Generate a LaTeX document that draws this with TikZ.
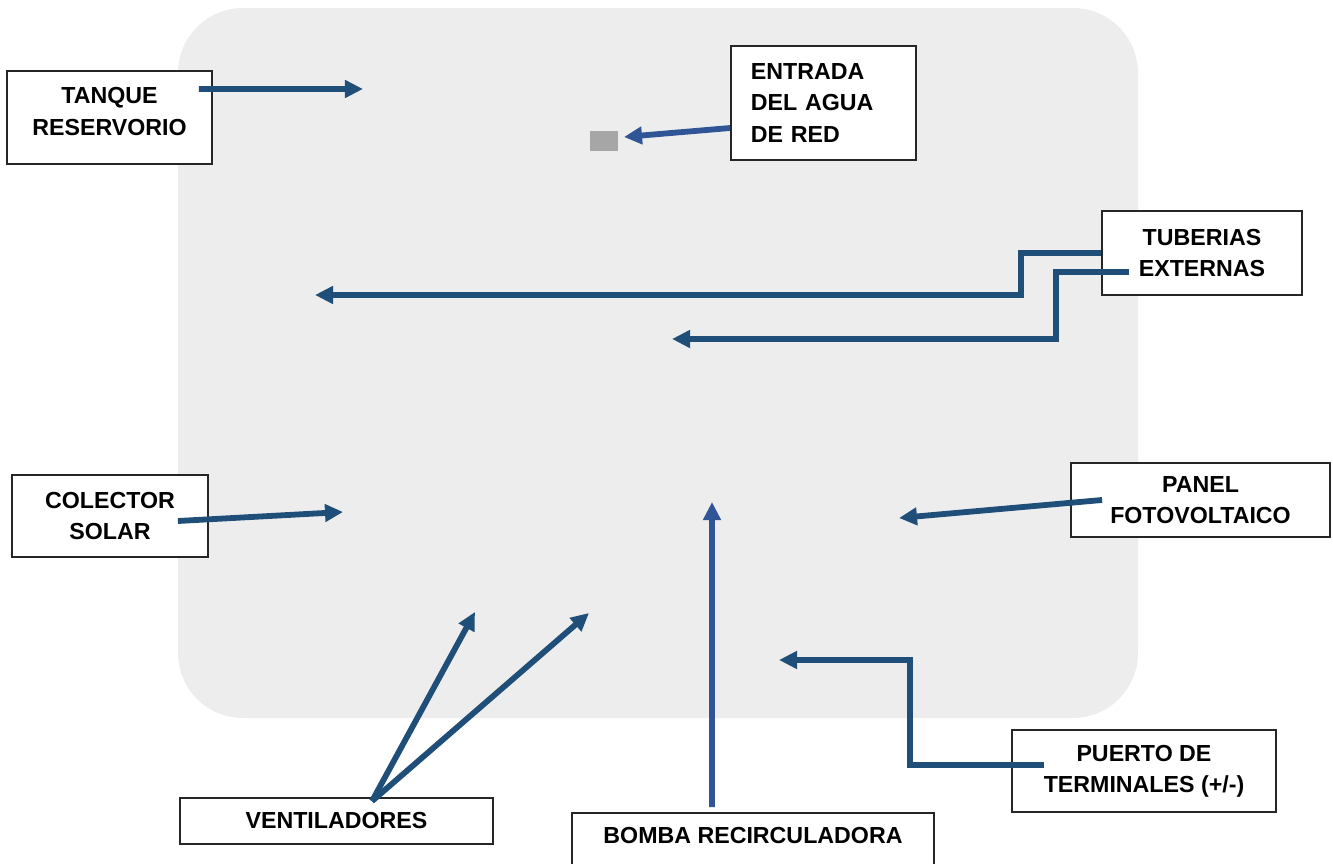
\documentclass[tikz,border=0pt]{standalone}
\usepackage{fontspec}
\setmainfont{Liberation Sans}
\usepackage{tikz}
\usetikzlibrary{positioning}
\usetikzlibrary{arrows.meta}
\definecolor{flecha}{HTML}{1F4E79}
\definecolor{flechaclara}{HTML}{2F5597}
\definecolor{fondo}{HTML}{EDEDED}
\definecolor{bloque}{HTML}{A6A6A6}
\tikzstyle{etiqueta} = [draw=black!85, fill=white, line width=0.5pt, inner sep=0pt, align=center, font=\fontsize{6.6}{8.9}\selectfont\bfseries]
\tikzstyle{line} = [draw=flecha, line width=0.058cm, -{Triangle[length=0.18cm,width=0.17cm]}]

\begin{document}
\begin{tikzpicture}[x=0.01cm, y=-0.01cm]

	\useasboundingbox (0,0) rectangle (1333,864);

	% equipo
	\fill[fondo, rounded corners=0.65cm] (178,8) rectangle (1138,718);
	\fill[bloque] (590,131) rectangle (618,151);

	\node[etiqueta, minimum width=2.05cm, minimum height=0.93cm, text depth=0.12cm] (tanque) at (109.5,117.5) {TANQUE\\RESERVORIO};
	\node[etiqueta, minimum width=1.85cm, minimum height=1.14cm, text width=1.45cm, align=left] (entrada) at (823.5,103) {ENTRADA\\DEL AGUA\\DE RED};
	\node[etiqueta, minimum width=2.0cm, minimum height=0.84cm] (tuberias) at (1202,253) {TUBERIAS\\EXTERNAS};
	\node[etiqueta, minimum width=1.96cm, minimum height=0.82cm] (colector) at (110,516) {COLECTOR\\SOLAR};
	\node[etiqueta, minimum width=2.59cm, minimum height=0.74cm] (panel) at (1200.5,500) {PANEL\\FOTOVOLTAICO};
	\node[etiqueta, minimum width=3.13cm, minimum height=0.46cm] (ventiladores) at (336.5,821) {VENTILADORES};
	\node[etiqueta, minimum width=3.62cm, minimum height=0.6cm, text depth=0.15cm] (bomba) at (753,843) {BOMBA RECIRCULADORA};
	\node[etiqueta, minimum width=2.64cm, minimum height=0.82cm] (puerto) at (1144,771) {PUERTO DE\\TERMINALES (+/-)};

	\coordinate (t-tanque) at (363,89);
	\coordinate (t-entrada) at (624,137);
	\coordinate (t-tub1) at (315,295);
	\coordinate (t-tub2) at (672,339);
	\coordinate (t-colector) at (343,512);
	\coordinate (t-panel) at (899,518);
	\coordinate (t-vent1) at (475,612);
	\coordinate (t-vent2) at (589,613);
	\coordinate (t-bomba) at (712,502);
	\coordinate (t-puerto) at (779,660);

	\path [line] ([xshift=-0.14cm, yshift=0.285cm]tanque.east) -- (t-tanque);
	\path [line, draw=flechaclara] ([yshift=-0.25cm]entrada.west) -- (t-entrada);
	\path [line] (tuberias.west) -- ++(-80,0) |- (t-tub1);
	\path [line] ([xshift=0.28cm, yshift=-0.19cm]tuberias.west) -- ++(-73,0) |- (t-tub2);
	\path [line] ([xshift=-0.31cm, yshift=-0.05cm]colector.east) -- (t-colector);
	\path [line] ([xshift=0.32cm]panel.west) -- (t-panel);
	\path [line] ([xshift=0.355cm, yshift=-0.04cm]ventiladores.north) -- (t-vent1);
	\path [line] ([xshift=0.355cm, yshift=-0.04cm]ventiladores.north) -- (t-vent2);
	\path [line, draw=flechaclara] ([xshift=-0.41cm, yshift=0.05cm]bomba.north) -- (t-bomba);
	\path [line] ([xshift=0.33cm, yshift=0.06cm]puerto.west) -- ++(-134,0) |- (t-puerto);

\end{tikzpicture}
\end{document}
